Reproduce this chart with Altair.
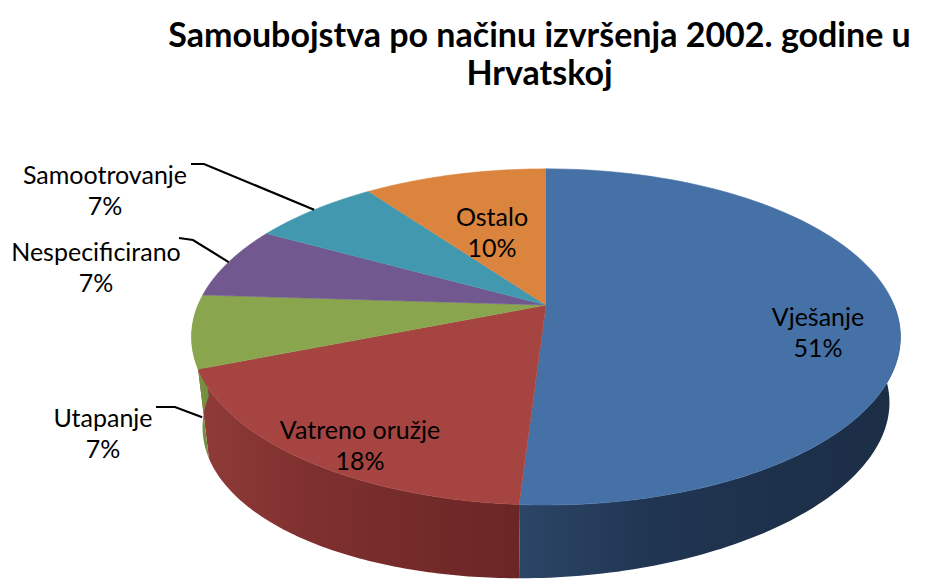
import altair as alt
import numpy as np
import pandas as pd

# ---------------- data ----------------
categories = ["Vješanje", "Vatreno oružje", "Utapanje", "Nespecificirano", "Samootrovanje", "Ostalo"]
values = [51, 18, 7, 7, 7, 10]
top_colors = ["#4571A6", "#A64441", "#89A54E", "#71598F", "#4198AF", "#DB843D"]
title_lines = ["Samoubojstva po načinu izvršenja 2002. godine u", "Hrvatskoj"]

# wall shading (left -> right)
wall_stops = {
    "Vješanje": ["#2C4566", "#203552", "#1C2D45"],
    "Vatreno oružje": ["#903B39", "#7E302F", "#6A2625"],
    "Utapanje": ["#7E9A47", "#789343", "#728D3F"],
}

# ---------------- layout / projection constants ----------------
W, H, PAD_TOP = 929, 480, 100
CX, CY, A, B, K = 546, 305, 348, 162, 0.19   # perspective projection of the top face
S, D0, D1 = 0.969, 79, 12.2                  # bottom face scale and depth

label_pos = {
    "Vješanje": (818, 318), "Ostalo": (492, 218), "Vatreno oružje": (360, 431),
    "Samootrovanje": (105, 176), "Nespecificirano": (96, 253), "Utapanje": (103, 419),
}
leader_pts = {
    "Samootrovanje": [(191, 164), (204, 164)],
    "Nespecificirano": [(179, 238), (193, 240)],
    "Utapanje": [(156, 407), (175, 407)],
}
leader_drop = {"Samootrovanje": 0.0, "Nespecificirano": 0.0, "Utapanje": 0.95}

# ---------------- tables built from the arrays ----------------
total = float(sum(values))
cum = np.concatenate([[0.0], np.cumsum(values)]) / total
N = 90

top_rows = []
for i, c in enumerate(categories):
    s, e = cum[i], cum[i + 1]
    top_rows.append(dict(cat=c, k=0, t=0.0, s=s, e=e, ctr=1))
    for k in range(N + 1):
        top_rows.append(dict(cat=c, k=k + 1, t=k / N, s=s, e=e, ctr=0))
top_df = pd.DataFrame(top_rows)

wall_rows = []
for i, c in enumerate(categories):
    ws, we = max(cum[i], 0.25), min(cum[i + 1], 0.75)
    if ws >= we:
        continue
    for k in range(N + 1):
        wall_rows.append(dict(cat=c, k=k, t=k / N, s=ws, e=we, bot=0))
    for k in range(N + 1):
        wall_rows.append(dict(cat=c, k=N + 1 + k, t=1 - k / N, s=ws, e=we, bot=1))
wall_df = pd.DataFrame(wall_rows)

lab_df = pd.DataFrame({
    "cat": categories,
    "val": values,
    "lx": [label_pos[c][0] for c in categories],
    "ly": [label_pos[c][1] for c in categories],
})

lead_rows = []
for i, c in enumerate(categories):
    if c not in leader_pts:
        continue
    mid = (cum[i] + cum[i + 1]) / 2
    (x0, y0), (x1, y1) = leader_pts[c]
    lead_rows.append(dict(cat=c, seq=0, lx=x0, ly=y0, mid=mid, drop=leader_drop[c]))
    lead_rows.append(dict(cat=c, seq=1, lx=x1, ly=y1, mid=mid, drop=leader_drop[c]))
    lead_rows.append(dict(cat=c, seq=2, lx=0, ly=0, mid=mid, drop=leader_drop[c]))
lead_df = pd.DataFrame(lead_rows)

# ---------------- scales ----------------
xs = alt.Scale(domain=[0, W], nice=False, zero=False)
ys = alt.Scale(domain=[PAD_TOP, PAD_TOP + H], nice=False, zero=False, reverse=True)
X = lambda f: alt.X(f, type="quantitative", scale=xs, axis=None)
Y = lambda f: alt.Y(f, type="quantitative", scale=ys, axis=None)

proj_x = f"sin(datum.ang)/(1+{K}*cos(datum.ang))"
proj_y = f"-cos(datum.ang)/(1+{K}*cos(datum.ang))"

# walls
wall_base = alt.Chart(wall_df).transform_calculate(
    ang="2*PI*(datum.s + datum.t*(datum.e-datum.s))"
).transform_calculate(
    ux=proj_x, uy=proj_y
).transform_calculate(
    px=f"{CX} + {A}*datum.ux*(datum.bot ? {S} : 1)",
    py=f"{CY} + {B}*datum.uy*(datum.bot ? {S} : 1) + (datum.bot ? ({D0} - {D1}*datum.ux) : 0)",
)
wall_layers = []
for c, stops in wall_stops.items():
    grad = alt.Gradient(
        gradient="linear",
        stops=[alt.GradientStop(color=stops[0], offset=0),
               alt.GradientStop(color=stops[1], offset=0.35),
               alt.GradientStop(color=stops[2], offset=1)],
        x1=0, x2=1, y1=0, y2=0,
    )
    wall_layers.append(
        wall_base.transform_filter(alt.datum.cat == c)
        .mark_line(filled=True, color=grad, interpolate="linear")
        .encode(x=X("px"), y=Y("py"), order=alt.Order("k:Q"))
    )

# top face
top = alt.Chart(top_df).transform_calculate(
    ang="2*PI*(datum.s + datum.t*(datum.e-datum.s))"
).transform_calculate(
    px=f"datum.ctr ? {CX} : {CX} + {A}*{proj_x}",
    py=f"datum.ctr ? {CY} : {CY} + {B}*{proj_y}",
).mark_line(filled=True, strokeWidth=0.6).encode(
    x=X("px"), y=Y("py"),
    color=alt.Color("cat:N", scale=alt.Scale(domain=categories, range=top_colors), legend=None),
    stroke=alt.Stroke("cat:N", scale=alt.Scale(domain=categories, range=top_colors), legend=None),
    order=alt.Order("k:Q"),
)

# labels
labels = alt.Chart(lab_df).transform_calculate(
    txt="datum.cat + '\\n' + datum.val + '%'"
).mark_text(
    font="Lato", fontSize=25, color="#000000", lineBreak="\n", lineHeight=31,
    align="center", baseline="middle",
).encode(x=X("lx"), y=Y("ly"), text="txt:N")

# leader lines
leaders = alt.Chart(lead_df).transform_calculate(
    ang="2*PI*datum.mid"
).transform_calculate(
    ux=proj_x, uy=proj_y
).transform_calculate(
    px=f"datum.seq == 2 ? {CX} + {A}*datum.ux*(1 - datum.drop*(1-{S})) : datum.lx",
    py=f"datum.seq == 2 ? {CY} + {B}*datum.uy*(1 - datum.drop*(1-{S})) + datum.drop*({D0} - {D1}*datum.ux) : datum.ly",
).mark_line(color="black", strokeWidth=2.2).encode(
    x=X("px"), y=Y("py"), detail="cat:N", order=alt.Order("seq:Q")
)

chart = alt.layer(*wall_layers, top, leaders, labels).properties(
    width=W, height=H,
    background="white",
    title=alt.TitleParams(
        text=title_lines, font="Lato", fontSize=34, fontWeight="bold", color="black",
        anchor="middle", dx=75, lineHeight=38, offset=8,
    ),
    autosize=alt.AutoSizeParams(type="none"),
    padding={"left": 0, "right": 0, "top": PAD_TOP, "bottom": 0},
).configure_view(stroke="transparent", strokeWidth=0)

chart.save("out.html", embed_options={"renderer": "svg", "actions": False})
